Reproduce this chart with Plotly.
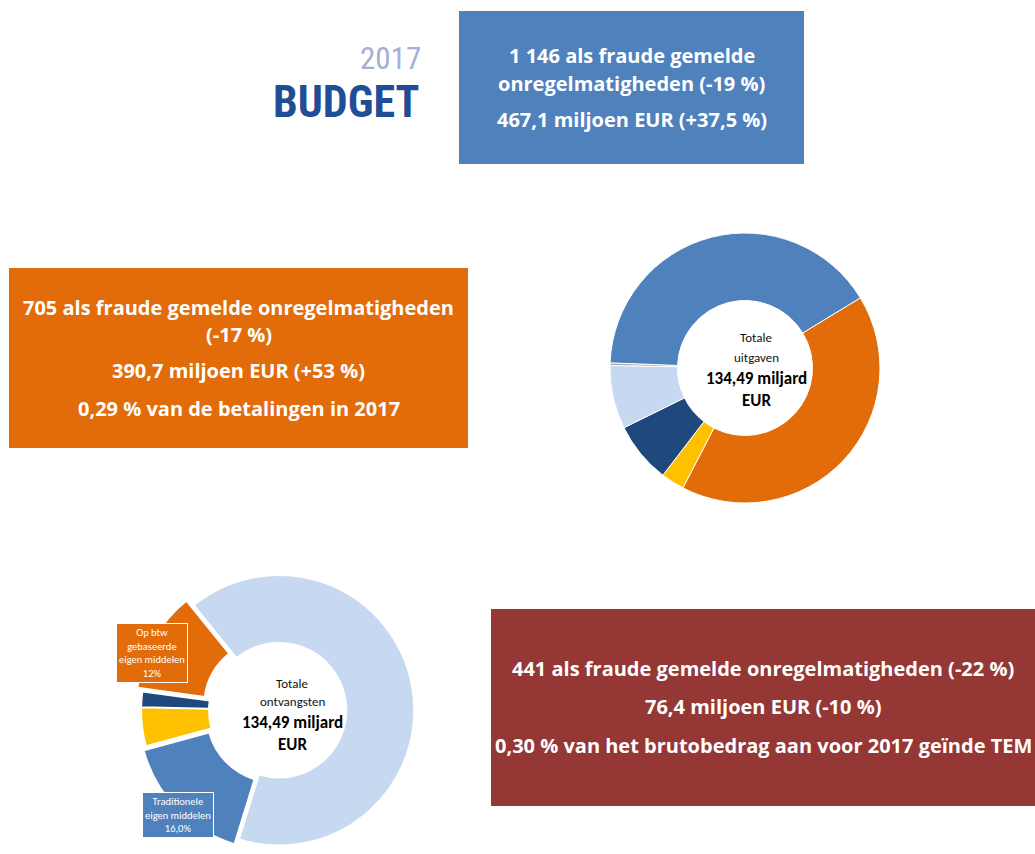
import plotly.graph_objects as go

W, H = 1035, 854

# ---- data ----
exp_labels = ["Duurzame groei: natuurlijke hulpbronnen", "Veiligheid en burgerschap",
              "Europa als wereldspeler", "Administratie", "Speciale instrumenten",
              "Slimme en inclusieve groei"]
exp_values = [41.3, 2.8, 7.3, 7.6, 0.3, 40.7]
exp_colors = ["#E36C0A", "#FFC000", "#1F497D", "#C6D9F1", "#A6A6A6", "#4F81BD"]

rev_labels = ["Op bni gebaseerde eigen middelen", "Traditionele eigen middelen",
              "Overige ontvangsten", "Overschot", "Op btw gebaseerde eigen middelen"]
rev_values = [65.6, 16.0, 4.6, 1.8, 12.0]
rev_colors = ["#C6D9F1", "#4F81BD", "#FFC000", "#1F497D", "#E36C0A"]
rev_pull = [0, 0.05, 0.02, 0.02, 0.065]

box1_lines = ["1 146 als fraude gemelde", "onregelmatigheden (-19 %)", "467,1 miljoen EUR (+37,5 %)"]
box2_lines = ["705 als fraude gemelde onregelmatigheden", "(-17 %)", "390,7 miljoen EUR (+53 %)",
              "0,29 % van de betalingen in 2017"]
box3_lines = ["441 als fraude gemelde onregelmatigheden (-22 %)", "76,4 miljoen EUR (-10 %)",
              "0,30 % van het brutobedrag aan voor 2017 geïnde TEM"]

FONT = "Carlito, Lato, 'Open Sans', sans-serif"
BOXFONT = "'Open Sans', Lato, sans-serif"


def px(x):
    return x / W


def py(y):
    return 1 - y / H


fig = go.Figure()

# top donut: centre (745,368), radius 135
cx1, cy1, r1 = 745, 368, 135
fig.add_trace(go.Pie(
    labels=exp_labels, values=exp_values, sort=False, direction="clockwise", rotation=58.7,
    hole=0.5, marker=dict(colors=exp_colors, line=dict(color="white", width=1)),
    textinfo="none", showlegend=False,
    domain=dict(x=[px(cx1 - r1), px(cx1 + r1)], y=[py(cy1 + r1), py(cy1 - r1)]),
))

# bottom donut (exploded)
mp = max(rev_pull)
cx2, r2 = 279, 135
half = r2 * (1 + mp)
fig.add_trace(go.Pie(
    labels=rev_labels, values=rev_values, sort=False, direction="clockwise", rotation=321,
    hole=0.5, pull=rev_pull,
    marker=dict(colors=rev_colors, line=dict(color="white", width=1.5)),
    textinfo="none", showlegend=False,
    domain=dict(x=[px(cx2 - half), px(cx2 + half)], y=[0, 2 * half / H]),
))

# coloured boxes
boxes = [(459, 11, 804, 164, "#4F81BD"), (9, 268, 468, 448, "#E36C0A"), (491, 609, 1040, 806, "#953735")]
shapes = []
for x0, y0, x1, y1, c in boxes:
    shapes.append(dict(type="rect", xref="paper", yref="paper", x0=px(x0), x1=px(x1),
                       y0=py(y1), y1=py(y0), fillcolor=c, line=dict(width=0), layer="below"))

ann = []


def txt(x, y, s, size, color="white", bold=True, family=FONT, xanchor="center", **kw):
    ann.append(dict(x=px(x), y=py(y), xref="paper", yref="paper", text=(f"<b>{s}</b>" if bold else s),
                    showarrow=False, xanchor=xanchor, yanchor="middle",
                    font=dict(size=size, color=color, family=family), **kw))


for s, y in zip(box1_lines, [56, 83, 119]):
    txt(631.5, y, s, 20, family=BOXFONT)
for s, y in zip(box2_lines, [307, 334, 371, 408]):
    txt(238.5, y, s, 20, family=BOXFONT)
for s, y in zip(box3_lines, [668, 706, 745]):
    txt(763, y, s, 20, family=BOXFONT)

# logo
LOGO = "'Roboto Condensed', 'Liberation Sans Narrow', 'DejaVu Sans Condensed', Roboto, sans-serif"
txt(423, 59, "2017", 31, color="#A4AFD8", bold=False, family=LOGO, xanchor="right")
txt(421, 102, "BUDGET", 44, color="#1F4E96", bold=True, family=LOGO, xanchor="right")

# centre texts
txt(756, 337, "Totale", 13, color="#111111", bold=False)
txt(756, 357, "uitgaven", 13, color="#111111", bold=False)
txt(756, 378, "134,49 miljard", 17, color="black")
txt(756, 400, "EUR", 17, color="black")

txt(292, 683, "Totale", 13, color="#111111", bold=False)
txt(292, 701, "ontvangsten", 13, color="#111111", bold=False)
txt(292, 722, "134,49 miljard", 17, color="black")
txt(292, 744, "EUR", 17, color="black")

# slice labels
ann.append(dict(x=px(152), y=py(653), xref="paper", yref="paper",
                text="Op btw<br>gebaseerde<br>eigen middelen<br>12%", showarrow=False,
                xanchor="center", yanchor="middle", align="center",
                font=dict(size=10.5, color="white", family=FONT),
                bgcolor="#E36C0A", bordercolor="white", borderwidth=1, borderpad=2))
ann.append(dict(x=px(178), y=py(815), xref="paper", yref="paper",
                text="Traditionele<br>eigen middelen<br>16,0%", showarrow=False,
                xanchor="center", yanchor="middle", align="center",
                font=dict(size=10.5, color="white", family=FONT),
                bgcolor="#4F81BD", bordercolor="white", borderwidth=1, borderpad=2))

fig.update_layout(width=W, height=H, margin=dict(l=0, r=0, t=0, b=0, pad=0),
                  paper_bgcolor="white", plot_bgcolor="white",
                  shapes=shapes, annotations=ann)

fig.write_html("out.html", config={"displayModeBar": False},
               post_script="document.body.style.margin='0';document.body.style.overflow='hidden';")
